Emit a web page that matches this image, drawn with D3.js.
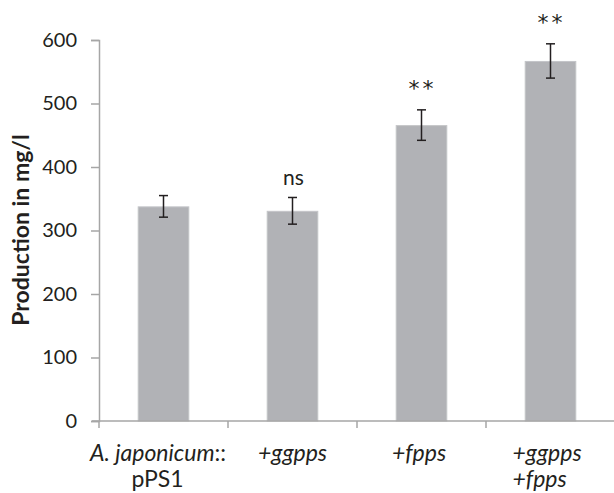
<!DOCTYPE html>
<html>
<head>
<meta charset="utf-8">
<script src="https://cdn.jsdelivr.net/npm/d3@7"></script>
<style>
  html, body { margin: 0; padding: 0; background: #fff; }
  svg { display: block; }
</style>
</head>
<body>
<svg id="chart" width="614" height="493"></svg>
<script>
// Strains compared
const categories = ["pPS1", "ggpps", "fpps", "ggpps+fpps"];
// Mean production (mg/l) and error half-widths
const production = [338, 331, 466, 567];
const errors = [17, 21, 24, 27];
// Significance marks above each bar
const significance = ["", "ns", "**", "**"];
const yTicks = [0, 100, 200, 300, 400, 500, 600];

const svg = d3.select("#chart");
const fontFamily = "Lato, 'Open Sans', sans-serif";
const axisColor = "#a6a6a6";
const textColor = "#231f20";

const x = d3.scaleBand().domain(categories).range([99, 615]).paddingInner(0.6).paddingOuter(0.3);
const y = d3.scaleLinear().domain([0, 600]).range([421, 40]);
const center = d => x(d) + x.bandwidth() / 2;

// Y axis
const yAxis = svg.append("g").attr("transform", "translate(99,0)")
  .call(d3.axisLeft(y).tickValues(yTicks).tickSize(8).tickPadding(14));
yAxis.select(".domain").attr("stroke", axisColor).attr("stroke-width", 1.5);
yAxis.selectAll(".tick line").attr("stroke", axisColor).attr("stroke-width", 1.5);
yAxis.selectAll(".tick text")
  .attr("font-family", fontFamily).attr("font-size", 20).attr("fill", textColor);

// Bars
svg.append("g").selectAll("rect").data(categories).join("rect")
  .attr("x", d => x(d) + 0.5)
  .attr("width", x.bandwidth() - 1)
  .attr("y", (d, i) => y(production[i]) + 0.5)
  .attr("height", (d, i) => y(0) - y(production[i]) - 0.5)
  .attr("fill", "#b1b2b6")
  .attr("stroke", "#c4c5c8")
  .attr("stroke-width", 1);

// X axis line with category ticks at band boundaries
const boundaries = d3.range(categories.length + 1).map(i => x.range()[0] + i * x.step());
svg.append("line").attr("x1", 92).attr("x2", 614).attr("y1", y(0)).attr("y2", y(0))
  .attr("stroke", axisColor).attr("stroke-width", 1.5);
svg.append("g").selectAll("line").data(boundaries).join("line")
  .attr("x1", d => d).attr("x2", d => d)
  .attr("y1", y(0)).attr("y2", y(0) + 7)
  .attr("stroke", axisColor).attr("stroke-width", 1.5);

// Error bars
const eb = svg.append("g").attr("stroke", "#231f20").attr("stroke-width", 1.5);
categories.forEach((c, i) => {
  const cx = center(c);
  const hi = y(production[i] + errors[i]);
  const lo = y(production[i] - errors[i]);
  eb.append("line").attr("x1", cx).attr("x2", cx).attr("y1", hi).attr("y2", lo);
  eb.append("line").attr("x1", cx - 4.5).attr("x2", cx + 4.5).attr("y1", hi).attr("y2", hi);
  eb.append("line").attr("x1", cx - 4.5).attr("x2", cx + 4.5).attr("y1", lo).attr("y2", lo);
});

// Significance labels
const sig = svg.append("g").attr("fill", textColor).attr("text-anchor", "middle");
categories.forEach((c, i) => {
  const s = significance[i];
  if (!s) return;
  const top = y(production[i] + errors[i]);
  if (s === "**") {
    sig.append("text")
      .attr("x", center(c) + 1)
      .attr("y", top - 14)
      .attr("font-family", "'DejaVu Sans', sans-serif")
      .attr("font-size", 22)
      .attr("letter-spacing", 3)
      .text(s);
  } else {
    sig.append("text")
      .attr("x", center(c) + 1)
      .attr("y", top - 12)
      .attr("font-family", fontFamily)
      .attr("font-size", 21)
      .text(s);
  }
});

// Category labels
const lab = svg.append("g").attr("font-family", fontFamily).attr("font-size", 23).attr("fill", textColor);
const line1 = 461, line2 = 487;
const c0 = center(categories[0]);
const t0 = lab.append("text").attr("x", c0 - 5.5).attr("y", line1).attr("text-anchor", "middle");
t0.append("tspan").attr("font-style", "italic").text("A. japonicum");
t0.append("tspan").text("::");
lab.append("text").attr("x", c0 - 6).attr("y", line2).attr("text-anchor", "middle").text("pPS1");

lab.append("text").attr("x", center(categories[1])).attr("y", line1)
  .attr("text-anchor", "middle").attr("font-style", "italic").text("+ggpps");
lab.append("text").attr("x", center(categories[2]) - 2.5).attr("y", line1)
  .attr("text-anchor", "middle").attr("font-style", "italic").text("+fpps");
const c3 = center(categories[3]);
lab.append("text").attr("x", c3 - 38).attr("y", line1).attr("font-style", "italic").text("+ggpps");
lab.append("text").attr("x", c3 - 38).attr("y", line2).attr("font-style", "italic").text("+fpps");

// Y axis title
svg.append("text")
  .attr("transform", "translate(29,230) rotate(-90)")
  .attr("text-anchor", "middle")
  .attr("font-family", fontFamily).attr("font-weight", "bold").attr("font-size", 23)
  .attr("fill", textColor)
  .text("Production in mg/l");
</script>
</body>
</html>
